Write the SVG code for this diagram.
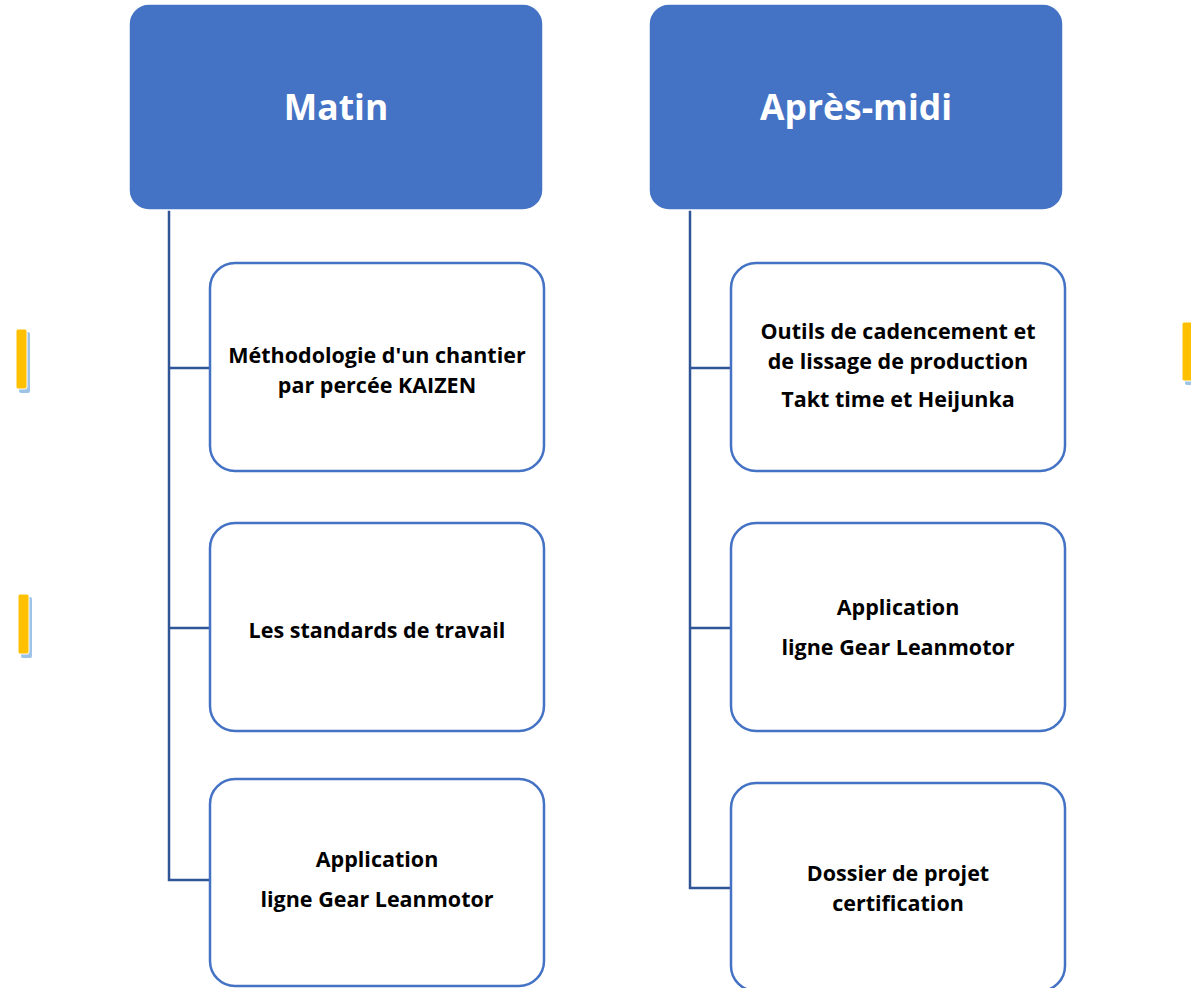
<svg xmlns="http://www.w3.org/2000/svg" width="1191" height="988" viewBox="0 0 1191 988">
<style>
.hdr{fill:#4472C4;stroke:#fff;stroke-width:1.5}
.box{fill:#fff;stroke:#4472C4;stroke-width:2.5}
.ht{font-family:"Open Sans","Liberation Sans",sans-serif;font-weight:bold;font-size:35.5px;fill:#fff;text-anchor:middle}
.bt{font-family:"Open Sans","Liberation Sans",sans-serif;font-weight:bold;font-size:21.5px;fill:#000;text-anchor:middle}
.con{fill:none;stroke:#2F5597;stroke-width:2.5}
.bar{fill:#FFC000;stroke:#fff;stroke-width:1}
.sh{fill:#9DC3E6}
</style>
<rect width="1191" height="988" fill="#fff"/>
<g id="decor">
<rect class="sh" x="19" y="332" width="11" height="61" rx="2"/>
<rect class="bar" x="16" y="329" width="11" height="60" rx="2"/>
<rect class="sh" x="21" y="597" width="11" height="61" rx="2"/>
<rect class="bar" x="18" y="594" width="11" height="60" rx="2"/>
<rect class="sh" x="1185" y="325" width="11" height="60" rx="2"/>
<rect class="bar" x="1182" y="322" width="11" height="59" rx="2"/>
</g>
<g id="connectors">
<path class="con" d="M169,210 V880 H210 M169,368 H210 M169,628 H210"/>
<path class="con" d="M690,210 V888 H731 M690,368 H731 M690,628 H731"/>
</g>
<g id="matin">
<rect class="hdr" x="129" y="4" width="414" height="206" rx="20"/>
<text class="ht" x="336" y="120">Matin</text>
</g>
<g id="apresmidi">
<rect class="hdr" x="649" y="4" width="414" height="206" rx="20"/>
<text class="ht" x="856" y="120">Après-midi</text>
</g>
<g id="m1">
<rect class="box" x="210" y="263" width="334" height="208" rx="25"/>
<text class="bt" x="377" y="363">Méthodologie d'un chantier</text>
<text class="bt" x="377" y="393">par percée KAIZEN</text>
</g>
<g id="m2">
<rect class="box" x="210" y="523" width="334" height="208" rx="25"/>
<text class="bt" x="377" y="638">Les standards de travail</text>
</g>
<g id="m3">
<rect class="box" x="210" y="779" width="334" height="207" rx="25"/>
<text class="bt" x="377" y="867">Application</text>
<text class="bt" x="377" y="907">ligne Gear Leanmotor</text>
</g>
<g id="a1">
<rect class="box" x="731" y="263" width="334" height="208" rx="25"/>
<text class="bt" x="898" y="339">Outils de cadencement et</text>
<text class="bt" x="898" y="369">de lissage de production</text>
<text class="bt" x="898" y="407">Takt time et Heijunka</text>
</g>
<g id="a2">
<rect class="box" x="731" y="523" width="334" height="208" rx="25"/>
<text class="bt" x="898" y="615">Application</text>
<text class="bt" x="898" y="655">ligne Gear Leanmotor</text>
</g>
<g id="a3">
<rect class="box" x="731" y="783" width="334" height="208" rx="25"/>
<text class="bt" x="898" y="881">Dossier de projet</text>
<text class="bt" x="898" y="911">certification</text>
</g>
</svg>
